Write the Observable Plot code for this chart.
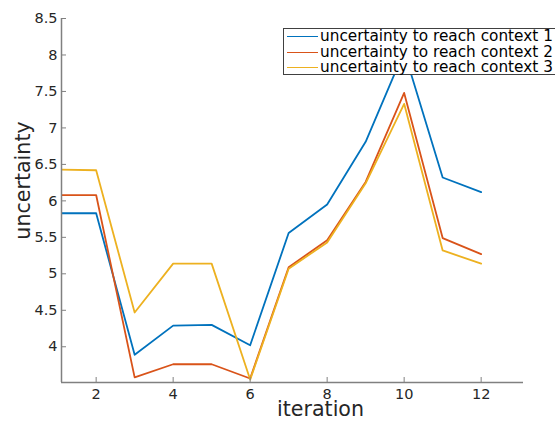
<!DOCTYPE html>
<html>
<head>
<meta charset="utf-8">
<script src="https://cdn.jsdelivr.net/npm/d3@7"></script>
<script src="https://cdn.jsdelivr.net/npm/@observablehq/plot@0.6"></script>
<style>
  html, body { margin: 0; padding: 0; background: #fff; }
  #wrap { position: relative; width: 555px; height: 425px; overflow: hidden; font-family: "DejaVu Sans", sans-serif; }
  #legend { position: absolute; left: 283px; top: 28px; width: 290px; height: 47px; background: #fff; border: 1px solid #404040; box-sizing: border-box; }
  .row { position: absolute; left: 0; height: 15px; }
  .sw { position: absolute; left: 3px; width: 31px; height: 0; border-top: 1.7px solid; }
  .lab { position: absolute; left: 36px; white-space: nowrap; font-size: 15.3px; color: #000; line-height: 15px; }
</style>
</head>
<body>
<div id="wrap"></div>
<script>
const iterations = [1, 2, 3, 4, 5, 6, 7, 8, 9, 10, 11, 12];
const context1 = [5.83, 5.83, 3.89, 4.29, 4.30, 4.02, 5.56, 5.95, 6.81, 8.05, 6.32, 6.12];
const context2 = [6.08, 6.08, 3.58, 3.76, 3.76, 3.565, 5.09, 5.46, 6.26, 7.48, 5.49, 5.27];
const context3 = [6.43, 6.42, 4.47, 5.14, 5.14, 3.55, 5.07, 5.43, 6.24, 7.33, 5.32, 5.14];
const seriesNames = ["uncertainty to reach context 1", "uncertainty to reach context 2", "uncertainty to reach context 3"];
const seriesColors = ["#0072BD", "#D95319", "#EDB120"];
const xTicks = [2, 4, 6, 8, 10, 12];
const yTicks = [4, 4.5, 5, 5.5, 6, 6.5, 7, 7.5, 8, 8.5];

const seriesValues = [context1, context2, context3];
const data = [];
seriesValues.forEach((vals, s) => {
  vals.forEach((v, i) => data.push({series: seriesNames[s], x: iterations[i], y: v}));
});

const axisColor = "#808080";
const textColor = "#262626";

const chart = Plot.plot({
  width: 555,
  height: 425,
  marginLeft: 61,
  marginRight: 32,
  marginTop: 18,
  marginBottom: 43,
  style: {fontFamily: "DejaVu Sans, sans-serif", background: "#fff"},
  x: {domain: [1.1, 13.1]},
  y: {domain: [3.51, 8.5]},
  color: {domain: seriesNames, range: seriesColors},
  marks: [
    Plot.line(data, {x: "x", y: "y", z: "series", stroke: "series", strokeWidth: 1.8, clip: true}),
    Plot.ruleY([3.51], {stroke: axisColor, strokeWidth: 1.5}),
    Plot.ruleX([1.1], {stroke: axisColor, strokeWidth: 1.5}),
    Plot.axisX({ticks: xTicks, tickSize: -5, tickPadding: 11, stroke: axisColor, color: textColor, fontSize: 14.5, tickFormat: d => d, label: null}),
    Plot.axisY({ticks: yTicks, tickSize: -5, tickPadding: 9, stroke: axisColor, color: textColor, fontSize: 14.5, tickFormat: d => d, label: null}),
    Plot.text(["iteration"], {frameAnchor: "bottom", dx: 28, dy: 27, lineAnchor: "middle", fontSize: 20.6, fill: textColor, text: d => d}),
    Plot.text(["uncertainty"], {frameAnchor: "left", dx: -38, dy: -20, rotate: -90, lineAnchor: "middle", fontSize: 20.6, fill: textColor, text: d => d, textAnchor: "middle"})
  ]
});

const wrap = document.getElementById("wrap");
wrap.appendChild(chart);

const legend = document.createElement("div");
legend.id = "legend";
seriesNames.forEach((name, i) => {
  const row = document.createElement("div");
  row.className = "row";
  row.style.top = (0 + i * 15.5) + "px";
  const sw = document.createElement("div");
  sw.className = "sw";
  sw.style.borderTopColor = seriesColors[i];
  sw.style.top = "7px";
  const lab = document.createElement("div");
  lab.className = "lab";
  lab.textContent = name;
  row.appendChild(sw);
  row.appendChild(lab);
  legend.appendChild(row);
});
wrap.appendChild(legend);
</script>
</body>
</html>
